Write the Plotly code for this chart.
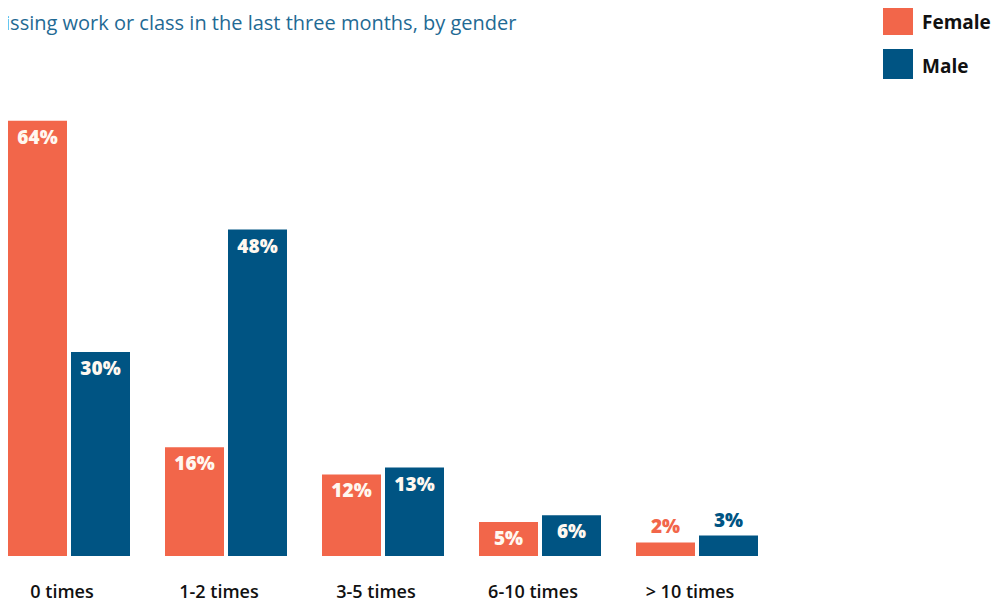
import plotly.graph_objects as go

categories = ["0 times", "1-2 times", "3-5 times", "6-10 times", "> 10 times"]
female = [64, 16, 12, 5, 2]
male = [30, 48, 13, 6, 3]
title_text = "Times missing work or class in the last three months, by gender"

FEMALE_C = "#F2664A"
MALE_C = "#005483"
FONT = "Open Sans"

xpos = list(range(len(categories)))

def positions(vals):
    return ["outside" if v < 4 else "inside" for v in vals]

fig = go.Figure()
for name, vals, col in [("Female", female, FEMALE_C), ("Male", male, MALE_C)]:
    fig.add_trace(go.Bar(
        x=xpos, y=vals, name=name, marker=dict(color=col, line=dict(width=0)),
        text=[f"{v}%" for v in vals], textposition=positions(vals),
        insidetextanchor="end",
        insidetextfont=dict(color="#FFF8F0", size=19, family=FONT, weight=800),
        outsidetextfont=dict(color=col, size=19, family=FONT, weight=800),
        textangle=0, cliponaxis=False, showlegend=False,
        hoverinfo="skip",
    ))

# the page is drawn with an 8px body margin, so positions are in figure pixels
W, H = 999, 607
OFF = 8
px_per_cat = 157
x0_px = 69 - OFF
base_px = 556 - OFF
PH = base_px  # plot-area height (top margin 0)
px_per_pct = 6.8
label_shift = 7 / px_per_cat

fig.update_layout(
    width=W, height=H,
    margin=dict(l=0, r=0, t=0, b=H - base_px),
    paper_bgcolor="white", plot_bgcolor="white",
    barmode="group", bargap=31 / 157, bargroupgap=4 / 63,
    uniformtext=dict(mode=False),
    xaxis=dict(
        range=[-x0_px / px_per_cat, (W - x0_px) / px_per_cat],
        tickvals=[p - label_shift for p in xpos], ticktext=categories,
        showgrid=False, zeroline=False,
        showline=False, ticks="", ticklabelstandoff=23,
        tickfont=dict(family=FONT, size=18, color="#111111", weight=600),
    ),
    yaxis=dict(range=[0, base_px / px_per_pct], visible=False, showgrid=False),
    font=dict(family=FONT),
)

fig.add_annotation(
    xref="paper", yref="paper", x=(518 - OFF) / W, y=1 - (22 - OFF) / PH,
    xanchor="right", yanchor="middle",
    text=title_text, showarrow=False,
    font=dict(family=FONT, size=20, color="#1F6A94"),
)

legend_items = [("Female", FEMALE_C, 20), ("Male", MALE_C, 64)]
for name, col, cy in legend_items:
    cy = cy - OFF
    fig.add_shape(type="rect", xref="paper", yref="paper",
                  x0=(883 - OFF) / W, x1=(913 - OFF) / W,
                  y0=1 - (cy + 15) / PH, y1=1 - (cy - 15) / PH,
                  fillcolor=col, line=dict(width=0))
    fig.add_annotation(xref="paper", yref="paper", x=(920 - OFF) / W,
                       y=1 - (cy + 2) / PH,
                       xanchor="left", yanchor="middle", text=name, showarrow=False,
                       font=dict(family=FONT, size=19, color="#111111", weight=700))

fig.write_html("out.html")
